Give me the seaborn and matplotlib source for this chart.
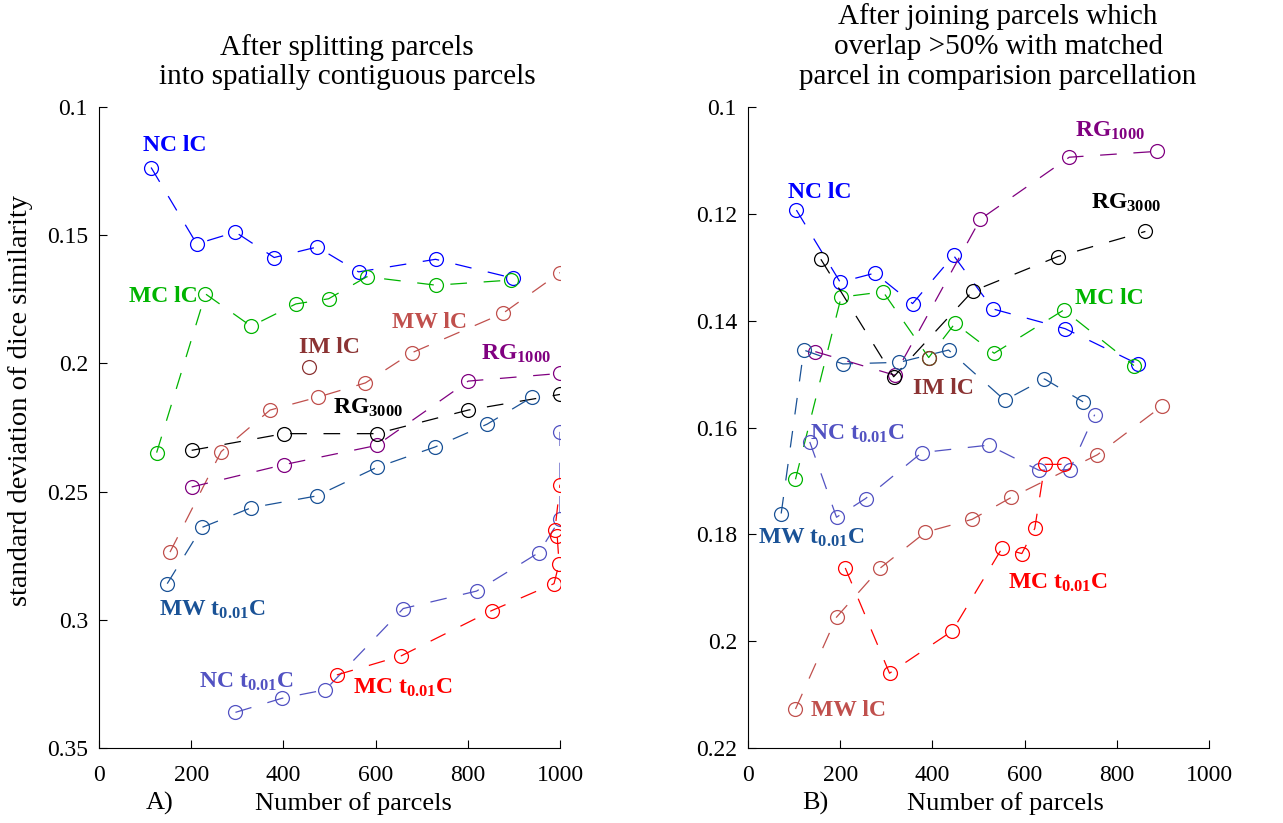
import matplotlib
matplotlib.use("Agg")
import matplotlib.pyplot as plt
import seaborn as sns
import pandas as pd

sns.set_theme(style="ticks")
plt.rcParams['font.family'] = ['Liberation Serif', 'DejaVu Serif']
plt.rcParams['text.color'] = 'black'
plt.rcParams['mathtext.fontset'] = 'custom'
plt.rcParams['mathtext.rm'] = 'Liberation Serif:bold'
plt.rcParams['mathtext.it'] = 'Liberation Serif:bold'
plt.rcParams['mathtext.bf'] = 'Liberation Serif:bold'
plt.rcParams['lines.scale_dashes'] = False
plt.rcParams['lines.dashed_pattern'] = [12, 12]

# ---------------- Panel A data ----------------
A_nc_lc_x = [113, 212, 296, 380, 473, 563, 730, 897]
A_nc_lc_y = [0.1236, 0.1534, 0.1488, 0.1587, 0.1546, 0.1643, 0.1594, 0.1667]
A_mc_lc_x = [125, 231, 330, 427, 498, 581, 731, 893]
A_mc_lc_y = [0.2348, 0.1729, 0.1855, 0.1768, 0.1748, 0.1662, 0.1695, 0.1675]
A_mw_lc_x = [154, 265, 371, 476, 578, 678, 876, 1000]
A_mw_lc_y = [0.2736, 0.2344, 0.2182, 0.2131, 0.2076, 0.1959, 0.1805, 0.1646]
A_im_lc_x = [456]
A_im_lc_y = [0.2013]
A_rg1000_x = [201, 401, 602, 801, 1000]
A_rg1000_y = [0.2482, 0.2395, 0.2320, 0.2069, 0.2039]
A_rg3000_x = [201, 401, 602, 801, 1000]
A_rg3000_y = [0.2339, 0.2274, 0.2274, 0.2182, 0.2121]
A_mw_t_x = [148, 223, 330, 472, 602, 729, 842, 939]
A_mw_t_y = [0.2859, 0.2640, 0.2563, 0.2517, 0.2406, 0.2326, 0.2237, 0.2132]
A_nc_t_x = [296, 397, 491, 660, 819, 954, 1000, 1000]
A_nc_t_y = [0.3361, 0.3306, 0.3273, 0.2956, 0.2888, 0.2738, 0.2608, 0.2267]
A_mc_t_x = [516, 655, 852, 987, 998, 994, 989, 1000]
A_mc_t_y = [0.3215, 0.3141, 0.2964, 0.2859, 0.2781, 0.2675, 0.2650, 0.2473]

# ---------------- Panel B data ----------------
B_nc_lc_x = [105, 200, 275, 357, 446, 531, 688, 845]
B_nc_lc_y = [0.1193, 0.1328, 0.1311, 0.1368, 0.1278, 0.1378, 0.1415, 0.1481]
B_mc_lc_x = [103, 202, 293, 392, 449, 534, 685, 837]
B_mc_lc_y = [0.1697, 0.1356, 0.1346, 0.1469, 0.1405, 0.1461, 0.1380, 0.1484]
B_mw_lc_x = [103, 192, 287, 385, 486, 571, 758, 898]
B_mw_lc_y = [0.2127, 0.1955, 0.1863, 0.1796, 0.1772, 0.1731, 0.1651, 0.1560]
B_im_lc_x = [392]
B_im_lc_y = [0.1469]
B_rg1000_x = [146, 318, 504, 697, 888]
B_rg1000_y = [0.1458, 0.1502, 0.1210, 0.1094, 0.1083]
B_rg3000_x = [158, 316, 487, 672, 862]
B_rg3000_y = [0.1285, 0.1505, 0.1345, 0.1280, 0.1233]
B_mw_t_x = [72, 121, 206, 328, 435, 557, 643, 727]
B_mw_t_y = [0.1761, 0.1455, 0.1481, 0.1478, 0.1455, 0.1549, 0.1509, 0.1552]
B_nc_t_x = [134, 192, 255, 377, 522, 631, 698, 752]
B_nc_t_y = [0.1627, 0.1768, 0.1733, 0.1647, 0.1633, 0.1680, 0.1679, 0.1576]
B_mc_t_x = [211, 307, 443, 551, 594, 622, 644, 686]
B_mc_t_y = [0.1863, 0.2060, 0.1981, 0.1826, 0.1836, 0.1789, 0.1669, 0.1669]

x_ticks = [0, 200, 400, 600, 800, 1000]
A_y_ticks = [0.1, 0.15, 0.2, 0.25, 0.3, 0.35]
A_y_ticklabels = ['0.1', '0.15', '0.2', '0.25', '0.3', '0.35']
B_y_ticks = [0.1, 0.12, 0.14, 0.16, 0.18, 0.2, 0.22]
B_y_ticklabels = ['0.1', '0.12', '0.14', '0.16', '0.18', '0.2', '0.22']

colors = {
    'nc_lc': '#0000ff', 'mc_lc': '#00b400', 'mw_lc': '#c0504d', 'im_lc': '#8b3333',
    'rg1000': '#800080', 'rg3000': '#000000', 'mw_t': '#1a5296', 'nc_t': '#5252c2',
    'mc_t': '#ff0000',
}
labels = {
    'nc_lc': 'NC lC', 'mc_lc': 'MC lC', 'mw_lc': 'MW lC', 'im_lc': 'IM lC',
    'rg1000': 'RG$_{1000}$', 'rg3000': 'RG$_{3000}$', 'mw_t': 'MW t$_{0.01}$C',
    'nc_t': 'NC t$_{0.01}$C', 'mc_t': 'MC t$_{0.01}$C',
}
A_series = {
    'nc_lc': (A_nc_lc_x, A_nc_lc_y), 'mc_lc': (A_mc_lc_x, A_mc_lc_y),
    'mw_lc': (A_mw_lc_x, A_mw_lc_y), 'im_lc': (A_im_lc_x, A_im_lc_y),
    'rg1000': (A_rg1000_x, A_rg1000_y), 'rg3000': (A_rg3000_x, A_rg3000_y),
    'mw_t': (A_mw_t_x, A_mw_t_y), 'nc_t': (A_nc_t_x, A_nc_t_y), 'mc_t': (A_mc_t_x, A_mc_t_y),
}
B_series = {
    'nc_lc': (B_nc_lc_x, B_nc_lc_y), 'mc_lc': (B_mc_lc_x, B_mc_lc_y),
    'mw_lc': (B_mw_lc_x, B_mw_lc_y), 'im_lc': (B_im_lc_x, B_im_lc_y),
    'rg1000': (B_rg1000_x, B_rg1000_y), 'rg3000': (B_rg3000_x, B_rg3000_y),
    'mw_t': (B_mw_t_x, B_mw_t_y), 'nc_t': (B_nc_t_x, B_nc_t_y), 'mc_t': (B_mc_t_x, B_mc_t_y),
}
# label placement (data coords, left/baseline)
A_label_pos = {
    'nc_lc': (95, 0.1173), 'mc_lc': (65, 0.1759), 'im_lc': (434, 0.1959),
    'mw_lc': (635, 0.1863), 'rg1000': (829, 0.1984), 'rg3000': (508, 0.2198),
    'mw_t': (131, 0.2983), 'nc_t': (218, 0.3266), 'mc_t': (550, 0.3289),
}
B_label_pos = {
    'rg1000': (709, 0.1056), 'nc_lc': (87, 0.1171), 'rg3000': (743, 0.1191),
    'mc_lc': (709, 0.1368), 'im_lc': (358, 0.1538), 'nc_t': (134, 0.1623),
    'mw_t': (22, 0.1818), 'mc_t': (564, 0.1902), 'mw_lc': (136, 0.2141),
}

W, H = 1283, 823
fig = plt.figure(figsize=(W / 100, H / 100), dpi=100)
axA = fig.add_axes([99 / W, 75 / H, 461 / W, 641 / H])
axB = fig.add_axes([748 / W, 75 / H, 461 / W, 641 / H])

TICK_FS = 17
LAB_FS = 17


def draw(ax, series, label_pos, ylim, yticks, yticklabels):
    for key, (xs, ys) in series.items():
        df = pd.DataFrame({'x': xs, 'y': ys})
        c = colors[key]
        sns.lineplot(data=df, x='x', y='y', ax=ax, sort=False, estimator=None,
                     color=c, linestyle='--', linewidth=0.9, marker='o',
                     markersize=10, markerfacecolor='none', markeredgecolor=c,
                     markeredgewidth=0.9)
        lx, ly = label_pos[key]
        ax.text(lx, ly, labels[key], color=c, fontsize=LAB_FS, fontweight='bold',
                ha='left', va='baseline')
    ax.set_xlim(0, 1000)
    ax.set_ylim(ylim[1], ylim[0])
    ax.set_xticks(x_ticks)
    ax.set_xticklabels([str(t) for t in x_ticks])
    ax.set_yticks(yticks)
    ax.set_yticklabels(yticklabels)
    ax.set_xlabel('')
    ax.set_ylabel('')
    ax.tick_params(direction='in', length=6, width=0.8, labelsize=TICK_FS,
                   colors='black')
    ax.tick_params(axis='x', pad=12)
    ax.tick_params(axis='y', pad=8)
    for s in ['top', 'right']:
        ax.spines[s].set_visible(False)
    for s in ['left', 'bottom']:
        ax.spines[s].set_color('black')
        ax.spines[s].set_linewidth(0.8)
    ax.set_facecolor('white')


draw(axA, A_series, A_label_pos, (0.1, 0.35), A_y_ticks, A_y_ticklabels)
draw(axB, B_series, B_label_pos, (0.1, 0.22), B_y_ticks, B_y_ticklabels)

TITLE_FS = 21
def ftext(px, py, s, **kw):
    fig.text(px / W, 1 - py / H, s, color='black', **kw)

ftext(347, 55, 'After splitting parcels', fontsize=TITLE_FS, ha='center', va='baseline')
ftext(347, 84, 'into spatially contiguous parcels', fontsize=TITLE_FS, ha='center', va='baseline')
ftext(998, 24, 'After joining parcels which', fontsize=TITLE_FS, ha='center', va='baseline')
ftext(998, 54, 'overlap >50% with matched', fontsize=TITLE_FS, ha='center', va='baseline')
ftext(998, 84, 'parcel in comparision parcellation', fontsize=TITLE_FS, ha='center', va='baseline')

XL_FS = 19
ftext(353, 810, 'Number of parcels', fontsize=XL_FS, ha='center', va='baseline')
ftext(1005, 810, 'Number of parcels', fontsize=XL_FS, ha='center', va='baseline')
ftext(160, 810, 'A)', fontsize=XL_FS, ha='center', va='baseline')
ftext(815, 810, 'B)', fontsize=XL_FS, ha='center', va='baseline')
ftext(21, 400, 'standard deviation of dice similarity', fontsize=20.5, ha='center',
      va='center', rotation=90)

fig.savefig('out.png', dpi=100, facecolor='white')
